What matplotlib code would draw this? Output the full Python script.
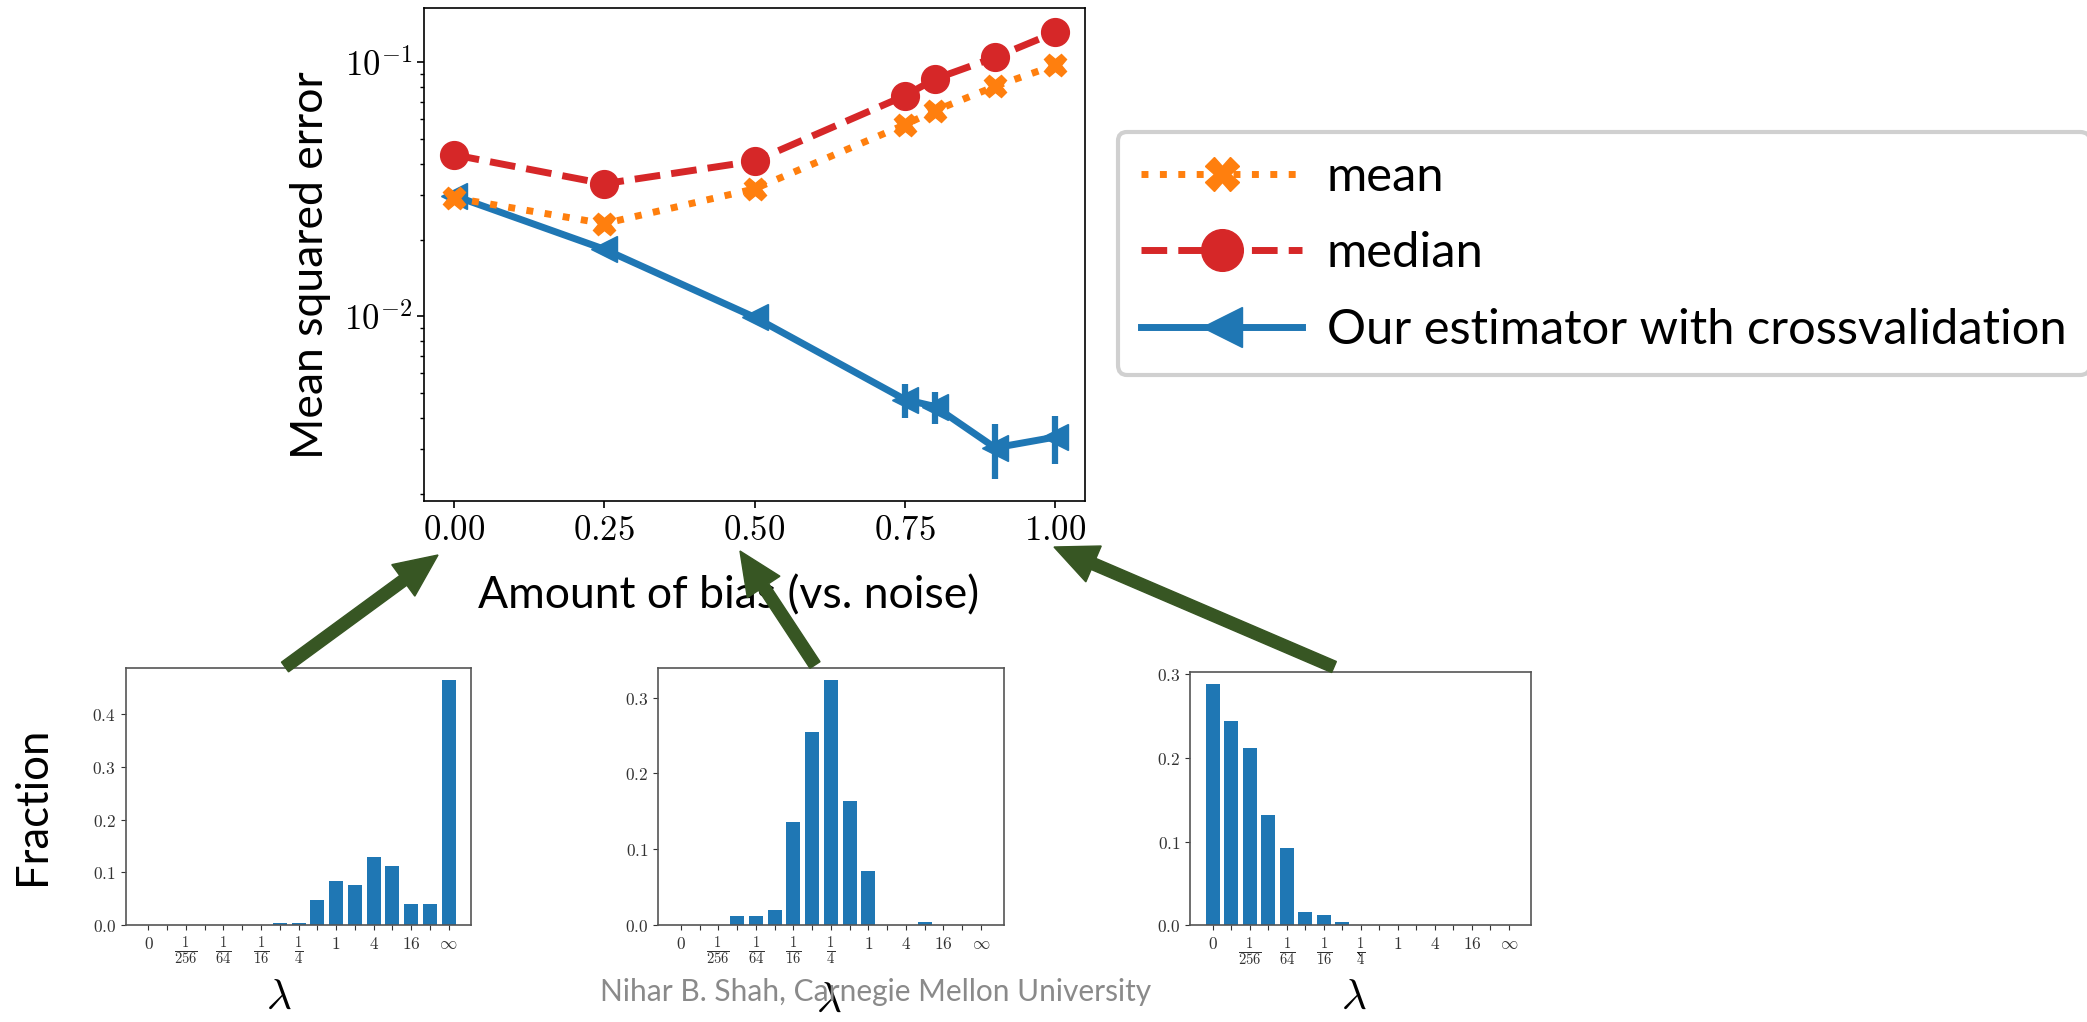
import numpy as np
import matplotlib
matplotlib.use('Agg')
import matplotlib.pyplot as plt
from matplotlib.patches import FancyArrow
from matplotlib.ticker import NullFormatter

plt.rcParams['mathtext.fontset'] = 'cm'

# top plot: mean squared error vs amount of bias
bias = [0.0, 0.25, 0.5, 0.75, 0.8, 0.9, 1.0]
mse_mean = [0.0293, 0.0232, 0.0318, 0.0569, 0.0646, 0.0806, 0.0976]
mse_median = [0.0433, 0.0333, 0.0409, 0.0740, 0.0861, 0.1048, 0.1314]
mse_ours = [0.0299, 0.0184, 0.00993, 0.00471, 0.00442, 0.00304, 0.00335]
err_ours = [0.0, 0.0, 0.0, 0.00072, 0.00064, 0.00074, 0.00072]

# bottom histograms: fraction of times each lambda is chosen
lam_labels = ['0', '', r'\frac{1}{256}', '', r'\frac{1}{64}', '', r'\frac{1}{16}', '',
              r'\frac{1}{4}', '', '1', '', '4', '', '16', '', r'\infty']
frac_bias0 = [0, 0, 0, 0, 0, 0, 0, 0.0038, 0.0038, 0.0475, 0.0835, 0.076, 0.129,
              0.112, 0.040, 0.040, 0.465]
frac_bias05 = [0, 0, 0, 0.0119, 0.0119, 0.0198, 0.136, 0.2547, 0.3234, 0.1637,
               0.0713, 0, 0, 0.004, 0, 0, 0]
frac_bias1 = [0.2884, 0.2442, 0.212, 0.1319, 0.0924, 0.0159, 0.0124, 0.004, 0, 0,
              0, 0, 0, 0, 0, 0, 0]

W, H = 2087, 1022
fig = plt.figure(figsize=(W / 100, H / 100), dpi=100)

def px_box(left, top, right, bottom):
    return [left / W, 1 - bottom / H, (right - left) / W, (bottom - top) / H]

ax = fig.add_axes(px_box(423.8, 7.9, 1085.4, 501.4))
l_ours, = ax.plot(bias, mse_ours, '-', marker='<', color='#1f77b4', lw=5, ms=19)
ax.errorbar(bias, mse_ours, yerr=err_ours, fmt='none', ecolor='#1f77b4',
            elinewidth=4.5, capsize=0)
l_mean, = ax.plot(bias, mse_mean, ':', marker='X', color='#ff7f0e', lw=5, ms=16)
l_median, = ax.plot(bias, mse_median, '--', marker='o', color='#d62728', lw=5, ms=20)

ax.set_yscale('log')
ax.set_ylim(0.00187, 0.164)
ax.set_yticks([1e-2, 1e-1], labels=[r'$10^{-2}$', r'$10^{-1}$'])
ax.yaxis.set_minor_formatter(NullFormatter())
ax.set_xticks([0, 0.25, 0.5, 0.75, 1.0],
              labels=[r'$0.00$', r'$0.25$', r'$0.50$', r'$0.75$', r'$1.00$'])
ax.tick_params(labelsize=25, length=5, width=1.2)
ax.tick_params(which='minor', length=3, width=1)
for s in ax.spines.values():
    s.set_linewidth(1.2)

ax.set_ylabel('Mean squared error', family='Lato', fontsize=32, va='center')
ax.yaxis.set_label_coords(-0.1705, 0.479)
ax.set_xlabel('Amount of bias (vs. noise)', family='Lato', fontsize=32, va='center')
ax.xaxis.set_label_coords(0.4613, -0.1917)

leg = ax.legend([l_mean, l_median, l_ours],
                ['mean', 'median', 'Our estimator with crossvalidation'],
                loc='upper left', bbox_to_anchor=(1117.6 / W, 1 - 131.7 / H),
                bbox_transform=fig.transFigure, borderaxespad=0,
                prop={'family': 'Lato', 'size': 35.2}, handlelength=3.3,
                handletextpad=0.5, labelspacing=0.66, borderpad=0.48,
                markerscale=1.5, fancybox=True, framealpha=1, edgecolor='#d0d0d0')
leg.get_frame().set_linewidth(3)

# histograms
hist_boxes = [px_box(125.7, 667.7, 471.4, 925.0),
              px_box(658.2, 667.7, 1003.6, 925.0),
              px_box(1190.4, 672.0, 1531.4, 925.3)]
hist_data = [frac_bias0, frac_bias05, frac_bias1]
yticks_list = [[0.0, 0.1, 0.2, 0.3, 0.4], [0.0, 0.1, 0.2, 0.3], [0.0, 0.1, 0.2, 0.3]]
lam_pos = [(0.4423, -0.2787), (0.4933, -0.2915), (0.4786, -0.2819)]
pos = np.arange(len(lam_labels))
hist_axes = []
for box, vals, yt, lp in zip(hist_boxes, hist_data, yticks_list, lam_pos):
    h = fig.add_axes(box)
    h.bar(pos, vals, width=0.75, color='#1f77b4')
    h.set_xticks(pos, labels=[f'${s}$' if s else '' for s in lam_labels])
    h.set_yticks(yt, labels=[f'${v:.1f}$' for v in yt])
    h.tick_params(labelsize=12.5, length=3.5, width=0.8, colors='#333333')
    for t, s in zip(h.get_xticklabels(), lam_labels):
        if 'frac' in s:
            t.set_fontsize(15)
    for s in h.spines.values():
        s.set_color('#555555')
        s.set_linewidth(1.2)
    h.set_xlabel(r'$\lambda$', fontsize=31, va='center')
    h.xaxis.set_label_coords(*lp)
    hist_axes.append(h)

hist_axes[0].set_ylabel('Fraction', family='Lato', fontsize=31.4, va='center')
hist_axes[0].yaxis.set_label_coords(-0.271, 0.4625)

# arrows linking histograms to bias values (pixel coords: tail, tip)
arrows = [((285, 667), (438, 555)), ((815, 665), (740, 551)), ((1334, 667), (1054, 547))]
for (x0, y0), (x1, y1) in arrows:
    fig.add_artist(FancyArrow(x0 / 100, (H - y0) / 100, (x1 - x0) / 100, (y0 - y1) / 100,
                              width=0.12, head_width=0.39, head_length=0.43,
                              length_includes_head=True, color='#375623',
                              transform=fig.dpi_scale_trans))

fig.text(1360 / W, 1 - 962 / H, '`', fontsize=12, ha='center', va='center')
fig.text(876 / W, 1 - 992 / H, 'Nihar B. Shah, Carnegie Mellon University',
         family='Lato', fontsize=21.5, color='#8a8a8a', ha='center', va='center')

fig.savefig('out.png', dpi=100)
